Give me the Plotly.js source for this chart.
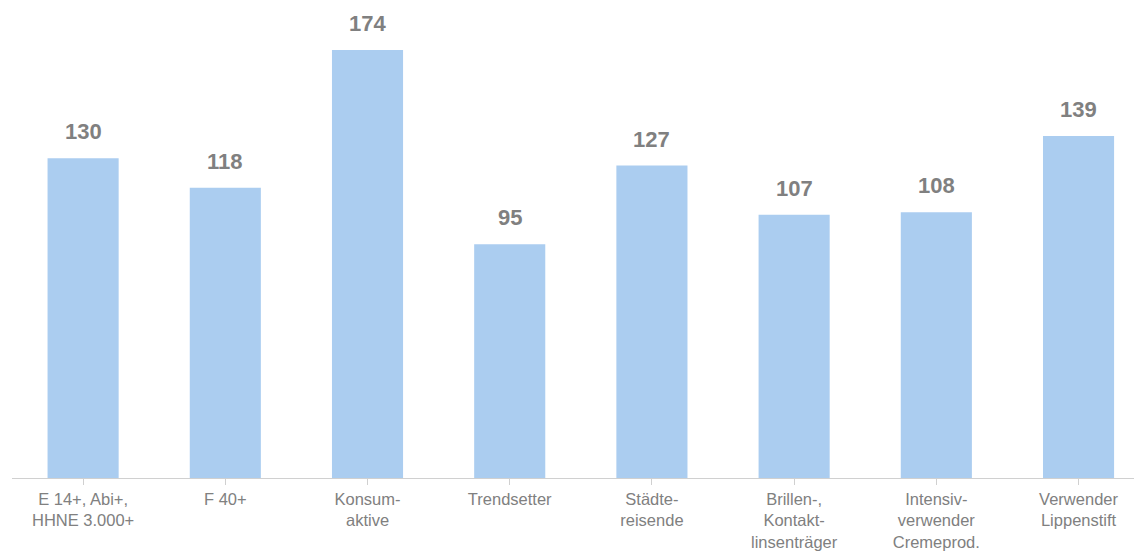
<!DOCTYPE html>
<html>
<head>
<meta charset="utf-8">
<script src="https://cdn.plot.ly/plotly-3.0.1.min.js"></script>
<style>html,body{margin:0;padding:0;background:#fff;}#chart{width:1134px;height:553px;}</style>
</head>
<body>
<div id="chart"></div>
<script>
const categories = ["E 14+, Abi+,<br>HHNE 3.000+", "F 40+", "Konsum-<br>aktive", "Trendsetter", "Städte-<br>reisende", "Brillen-,<br>Kontakt-<br>linsenträger", "Intensiv-<br>verwender<br>Cremeprod.", "Verwender<br>Lippenstift"];
const values = [130, 118, 174, 95, 127, 107, 108, 139];

const idx = categories.map((c, i) => i);
const trace = {
  type: 'bar',
  x: idx,
  y: values,
  marker: {color: '#abcdf0'},
  hoverinfo: 'none'
};
const annotations = values.map((v, i) => ({
  x: i, y: v, xref: 'x', yref: 'y',
  text: String(v), showarrow: false,
  yanchor: 'bottom', yshift: 12,
  font: {family: 'Liberation Sans, Arial, sans-serif', size: 22, color: '#808080', weight: 'bold'}
}));
const layout = {
  width: 1134, height: 553,
  margin: {l: 12, r: 0, t: 0, b: 75},
  paper_bgcolor: '#fff', plot_bgcolor: '#fff',
  bargap: 0.5,
  showlegend: false,
  xaxis: {
    range: [-0.5, 7.39],
    tickmode: 'array', tickvals: idx, ticktext: categories,
    tickson: 'boundaries', ticks: 'outside', ticklen: 6, tickcolor: '#d0d0d0', tickwidth: 1,
    showline: true, linecolor: '#d0d0d0', linewidth: 1,
    showgrid: false, zeroline: false,
    ticklabelstandoff: 0,
    tickfont: {family: 'Liberation Sans, Arial, sans-serif', size: 16.5, color: '#808080'},
    fixedrange: true
  },
  yaxis: {
    range: [0, 194.3], visible: false, showgrid: false, zeroline: false, fixedrange: true
  },
  annotations: annotations
};
Plotly.newPlot('chart', [trace], layout, {displayModeBar: false, staticPlot: true});
</script>
</body>
</html>
